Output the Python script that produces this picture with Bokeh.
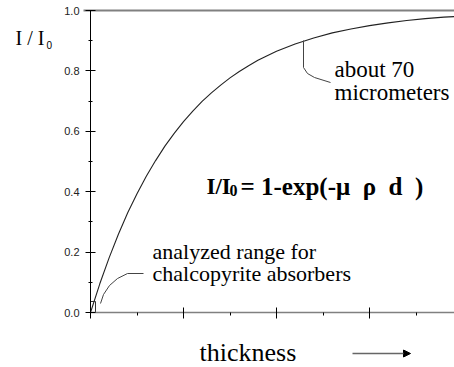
from bokeh.plotting import figure
from bokeh.models import (Range1d, Label, Arrow, NormalHead, FixedTicker,
                          CustomJSTickFormatter, LinearAxis)
from bokeh.embed import file_html
from bokeh.resources import INLINE

# ---- data ----
thickness = [0.0, 0.1, 0.2, 0.3, 0.4, 0.5, 0.6, 0.7, 0.8, 0.9, 1.0, 1.1, 1.2,
             1.3, 1.4, 1.5, 1.6, 1.7, 1.8, 1.9, 2.0, 2.2, 2.4, 2.6, 2.8, 3.0,
             3.2, 3.4, 3.6, 3.8, 3.92]
intensity = [0.0, 0.095, 0.181, 0.259, 0.330, 0.393, 0.451, 0.503, 0.551,
             0.593, 0.632, 0.667, 0.699, 0.727, 0.753, 0.777, 0.798, 0.817,
             0.835, 0.850, 0.865, 0.889, 0.909, 0.926, 0.939, 0.950, 0.959,
             0.967, 0.973, 0.978, 0.980]
y_ticks = [0.0, 0.2, 0.4, 0.6, 0.8, 1.0]
y_minor = [0.1, 0.3, 0.5, 0.7, 0.9]
x_ticks = [0, 1, 2, 3]
x_minor = [0.5, 1.5, 2.5, 3.5]

W, H = 454, 367
OX, OY = 90, 312          # pixel position of the origin
SX, SY = 93.0, 302.0      # pixels per unit
XS, XE = -OX / SX, (W - OX) / SX
YS, YE = -(H - OY) / SY, OY / SY

p = figure(width=W, height=H, output_backend="svg", toolbar_location=None,
           x_range=Range1d(XS, XE), y_range=Range1d(YS, YE),
           x_axis_type=None, y_axis_type=None, min_border=0)
p.outline_line_color = None
p.background_fill_color = "white"
p.border_fill_color = "white"


def dx(px):
    return (px - OX) / SX


def dy(py):
    return (OY - py) / SY


# y axis
ya = LinearAxis(fixed_location=0, bounds=(0, 1))
ya.ticker = FixedTicker(ticks=y_ticks, minor_ticks=y_minor)
ya.formatter = CustomJSTickFormatter(code="return tick.toFixed(1)")
ya.axis_line_color = "black"
ya.major_tick_line_color = "black"
ya.minor_tick_line_color = "black"
ya.major_tick_in = 5
ya.major_tick_out = 5
ya.minor_tick_in = 2
ya.minor_tick_out = 2
ya.major_label_text_font = "Liberation Sans"
ya.major_label_text_font_size = "11px"
ya.major_label_text_color = "#222222"
ya.major_label_standoff = 6
p.add_layout(ya, "left")

# x axis
xa = LinearAxis(fixed_location=0, bounds=(0, XE))
xa.ticker = FixedTicker(ticks=x_ticks, minor_ticks=x_minor)
xa.axis_line_color = "#808080"
xa.axis_line_width = 1.5
xa.major_tick_line_color = "black"
xa.minor_tick_line_color = "black"
xa.major_tick_in = 5
xa.major_tick_out = 6
xa.minor_tick_in = 0
xa.minor_tick_out = 3
xa.major_label_text_font_size = "0px"
xa.major_label_text_color = None
p.add_layout(xa, "below")

# top frame line at 1.0
p.segment(x0=[dx(83)], y0=[1.0], x1=[XE], y1=[1.0], line_color="#808080",
          line_width=2)

# the curve
p.line(thickness, intensity, line_color="#222222", line_width=1.1)

# callouts
p.line([dx(v) for v in [303, 303, 307, 314, 330]],
       [dy(v) for v in [40, 67, 73, 77, 82]], line_color="#444444", line_width=1)
p.line([dx(v) for v in [100, 103, 109, 117, 127, 143]],
       [dy(v) for v in [303, 294, 285, 278, 273, 273]], line_color="#444444",
       line_width=1)
p.line([dx(v) for v in [90, 90, 95, 95]], [dy(v) for v in [312, 301, 301, 312]],
       line_color="#333333", line_width=1)

SERIF = "Liberation Serif"


def lab(text, px, py, size, bold=False, font=SERIF):
    p.add_layout(Label(x=dx(px), y=dy(py), text=text, text_font=font,
                       text_font_size=f"{size}px",
                       text_font_style="bold" if bold else "normal",
                       text_color="black", text_baseline="alphabetic",
                       text_align="left"))


lab("I / I", 15, 37, 20)
lab("0", 46, 44, 10, font="Liberation Sans")
lab("about 70", 334, 69, 23)
lab("micrometers", 334, 92, 23)
lab("I/I", 206, 186, 23, bold=True)
lab("0", 229, 190, 16, bold=True)
lab("= 1-exp(-\u03bc\u2002\u03c1\u2002d\u2002)", 240, 186, 25, bold=True)
lab("analyzed range for", 152, 251, 22)
lab("chalcopyrite absorbers", 152, 273, 22)
lab("thickness", 199, 352, 26)

p.add_layout(Arrow(end=NormalHead(size=7, fill_color="black", line_color="black"),
                   x_start=dx(352), y_start=dy(353), x_end=dx(410), y_end=dy(353),
                   line_color="#666666", line_width=1.5))

open("out.html", "w").write(file_html(p, INLINE))
